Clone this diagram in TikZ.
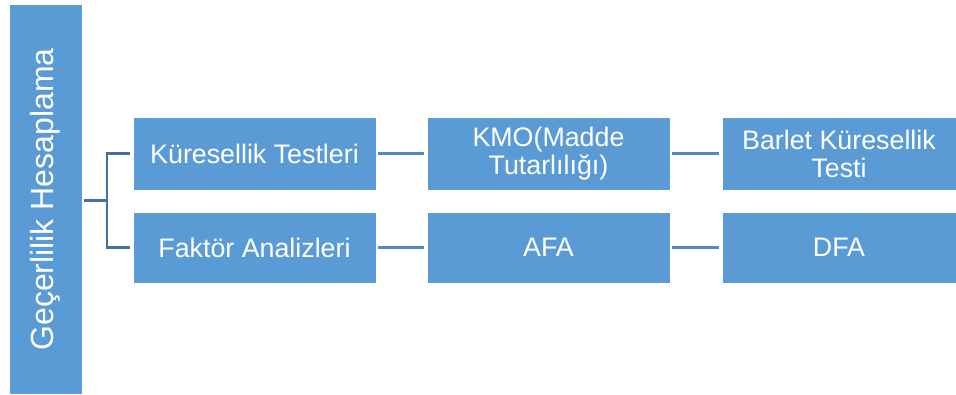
\documentclass[tikz,border=0pt]{standalone}
\usepackage{fontspec}
\setmainfont{Liberation Sans}
\definecolor{boxblue}{HTML}{5B9BD5}
\definecolor{bracketblue}{HTML}{41719C}
\definecolor{lineblue}{HTML}{4F89C6}
\begin{document}
\begin{tikzpicture}[x=1pt,y=-1pt,
  box/.style={fill=boxblue,draw=white,line width=0.6pt,inner sep=0pt,text=white,align=center,
    font=\fontsize{26.8}{28}\selectfont},
  bracket/.style={draw=bracketblue,line width=2.8pt},
  rowline/.style={draw=lineblue,line width=2.8pt}]
\useasboundingbox (0,0) rectangle (956,394);
\node[box,minimum width=73pt,minimum height=390pt] (root) at (45.5,199.5) {};
\node[rotate=90,text=white,font=\fontsize{32}{34}\selectfont] (roottext) at (root.center) {Geçerlilik Hesaplama};
\node[box,minimum width=243pt,minimum height=73pt] (k1) at (254.5,153.5) {Küresellik Testleri};
\node[box,minimum width=243pt,minimum height=73pt] (k2) at (548.5,153.5) {KMO(Madde\\Tutarlılığı)};
\node[box,minimum width=234pt,minimum height=73pt] (k3) at (839,153.5) {Barlet Küresellik\\Testi};
\node[box,minimum width=243pt,minimum height=71pt] (f1) at (254.5,247.5) {Faktör Analizleri};
\node[box,minimum width=243pt,minimum height=71pt] (f2) at (548.5,247.5) {AFA};
\node[box,minimum width=234pt,minimum height=71pt] (f3) at (839,247.5) {DFA};
\coordinate (fork) at (107,200.5);
\draw[bracket] ([xshift=2pt]root.east |- fork) -- (fork);
\draw[bracket] ([xshift=-3pt]k1.west) -| (fork) |- ([xshift=-3pt]f1.west);
\draw[rowline] ([xshift=2pt]k1.east) -- ([xshift=-3pt]k2.west);
\draw[rowline] ([xshift=2pt]k2.east) -- ([xshift=-3pt]k3.west);
\draw[rowline] ([xshift=2pt]f1.east) -- ([xshift=-3pt]f2.west);
\draw[rowline] ([xshift=2pt]f2.east) -- ([xshift=-3pt]f3.west);
\end{tikzpicture}
\end{document}
